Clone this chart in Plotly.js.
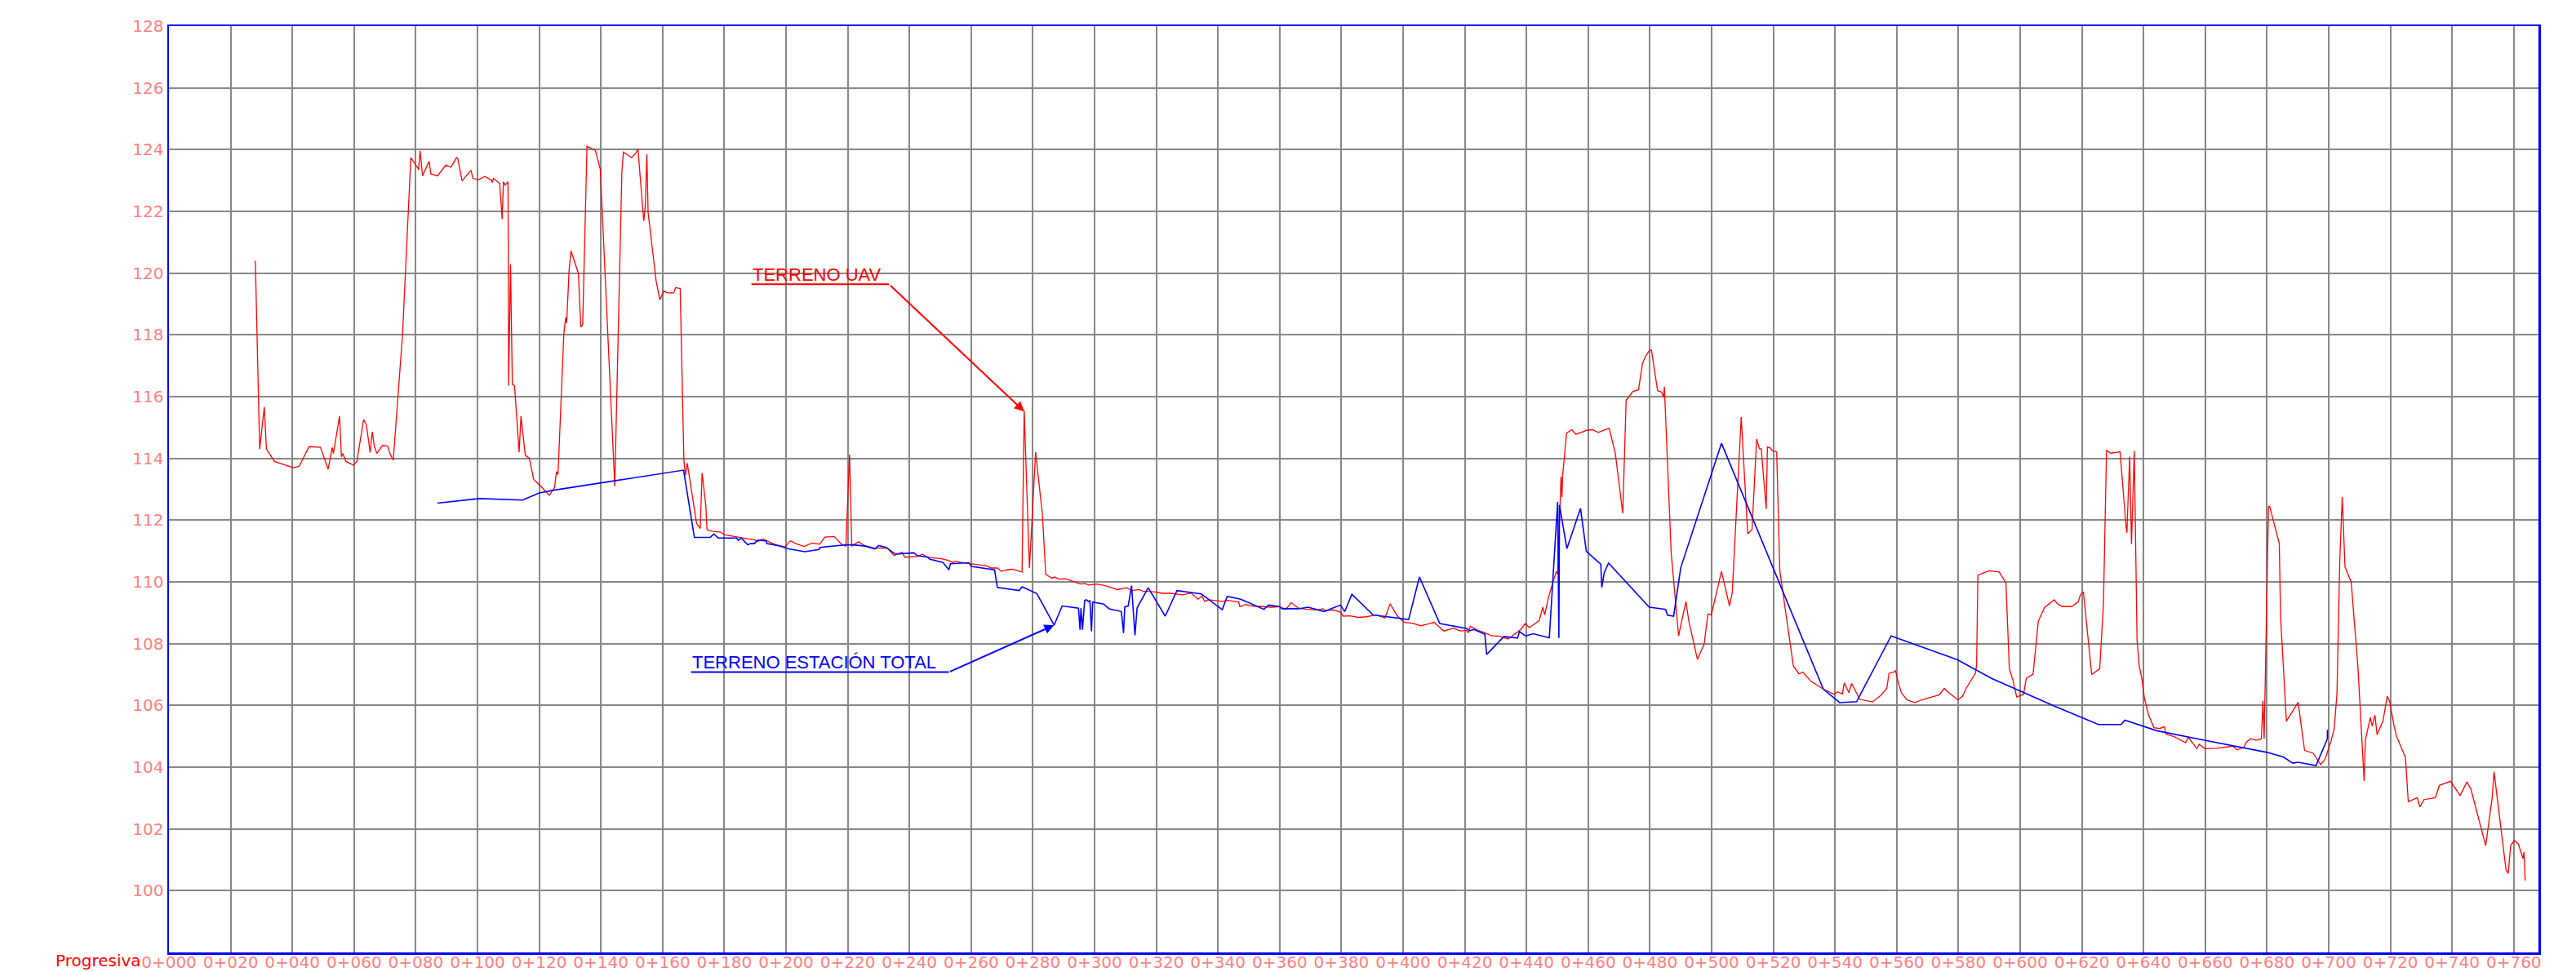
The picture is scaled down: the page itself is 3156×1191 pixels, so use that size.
<!DOCTYPE html>
<html>
<head>
<meta charset="utf-8">
<script src="https://cdn.plot.ly/plotly-3.0.1.min.js"></script>
<style>
html, body { margin: 0; padding: 0; background: #ffffff; }
#chart { width: 3156px; height: 1191px; }
</style>
</head>
<body>
<div id="chart"></div>
<script>
// Terreno UAV (progresiva m, elevación m)
const uavX = [28.0,29.4,30.9,31.6,34.2,40.3,42.2,45.4,49.1,51.6,52.9,53.3,55.3,55.9,56.3,57.4,59.8,60.9,63.1,64.0,65.2,65.9,66.6,67.4,69.2,70.9,71.6,72.7,75.7,78.4,80.6,80.9,81.4,82.2,84.3,84.9,87.1,88.5,89.7,91.4,93.2,93.6,95.0,97.9,98.5,100.3,102.4,104.5,104.8,105.2,107.2,108.0,108.4,109.0,109.9,110.1,110.7,111.3,112.0,113.5,114.1,115.5,116.8,118.2,120.0,123.3,125.0,125.6,126.1,128.0,128.6,128.9,129.7,130.3,132.7,133.5,134.1,135.5,138.2,139.8,144.5,146.8,147.3,150.0,151.4,152.0,153.9,154.4,154.9,155.3,157.9,159.1,160.4,161.5,163.6,164.2,165.7,166.9,167.4,168.0,171.0,172.2,172.8,174.0,174.4,176.0,178.9,179.9,184.2,187.8,189.6,190.8,192.5,193.7,196.7,199.6,201.4,203.2,205.8,208.5,210.9,212.6,215.6,218.2,219.4,220.6,221.3,223.5,225.3,228.8,232.8,235.0,237.6,238.5,242.9,244.3,245.6,250.4,252.6,254.0,254.9,256.7,259.3,263.7,265.1,266.4,268.5,269.8,271.6,273.4,276.5,277.2,278.9,280.9,283.1,284.2,286.2,287.1,288.4,290.6,292.4,295.4,296.8,298.1,300.7,303.4,305.6,307.3,310.4,312.2,314.4,315.7,319.3,320.3,322.0,324.6,326.4,328.6,331.3,333.5,334.8,335.7,337.0,341.4,343.2,346.7,347.1,348.9,351.1,355.1,357.3,360.0,361.7,362.6,363.7,366.1,368.8,372.3,374.0,374.9,377.5,379.7,380.6,382.8,385.5,388.1,391.2,394.1,395.8,398.2,400.4,403.0,405.7,407.5,410.1,413.2,416.3,418.5,420.7,421.1,421.8,424.2,426.0,428.6,431.3,434.0,435.7,437.4,438.2,439.6,440.9,444.1,445.3,445.9,447.0,448.5,449.7,450.1,451.2,451.5,451.7,453.0,454.7,456.0,459.6,461.3,463.3,466.8,468.8,471.2,472.3,474.5,476.3,477.6,478.5,479.8,480.5,482.5,483.8,484.4,484.7,486.9,489.3,490.4,491.7,492.6,495.4,497.6,498.8,499.9,503.2,505.8,506.7,509.6,510.2,511.7,513.1,514.6,515.5,516.1,517.7,518.1,519.0,519.6,521.1,522.1,526.5,528.3,529.6,532.2,536.2,539.7,540.8,542.4,543.0,544.5,545.4,548.0,552.1,554.7,556.8,557.5,559.1,559.6,560.4,561.5,563.3,565.9,568.1,570.6,573.8,575.4,576.9,579.8,581.3,582.6,585.5,585.9,586.3,587.5,590.0,593.2,595.4,596.5,597.6,598.9,601.1,602.0,604.2,605.9,607.9,609.5,611.1,612.0,613.7,616.7,618.8,619.5,620.5,623.2,625.8,627.0,628.0,629.3,631.7,632.4,634.2,634.6,635.5,636.1,637.0,637.9,638.6,639.5,640.3,641.7,643.4,645.2,646.8,647.3,649.9,653.6,654.5,657.3,658.0,659.9,663.6,666.3,669.0,670.3,672.5,673.4,674.7,676.5,678.2,678.7,679.1,680.5,680.9,684.0,684.4,686.3,690.1,692.2,695.0,697.4,698.9,700.7,701.8,702.7,703.6,704.4,705.3,707.3,709.5,711.5,711.9,713.5,714.1,715.0,715.7,717.6,719.0,719.8,721.2,722.0,724.9,725.8,728.7,729.6,730.9,734.6,735.9,739.5,742.6,744.8,746.1,750.9,752.1,753.0,753.6,757.5,758.2,759.0,760.2,761.5,763.0,763.3,763.7];
const uavY = [120.4,114.3,115.66,114.3,113.9,113.7,113.74,114.38,114.36,113.65,114.35,114.16,115.37,114.05,114.16,113.9,113.78,113.9,115.26,115.08,114.19,114.86,114.38,114.16,114.42,114.4,114.16,113.94,118.0,123.74,123.41,123.35,123.96,123.15,123.62,123.21,123.15,123.34,123.5,123.43,123.74,123.72,122.99,123.33,123.07,123.03,123.13,123.01,122.94,123.07,122.9,121.75,122.96,122.85,122.96,116.36,120.28,116.4,116.36,114.2,115.37,114.1,114.0,113.32,113.15,112.8,113.06,113.57,113.48,118.06,118.56,118.38,120.1,120.72,120.0,118.25,118.34,124.11,123.98,123.37,113.1,123.3,123.92,123.74,123.9,124.03,121.69,122.18,123.85,121.96,119.75,119.14,119.42,119.36,119.36,119.53,119.5,113.94,113.46,113.84,111.9,111.73,113.53,112.48,111.69,111.64,111.61,111.53,111.45,111.39,111.37,111.31,111.39,111.33,111.2,111.13,111.33,111.24,111.15,111.26,111.22,111.45,111.47,111.2,111.16,114.12,111.16,111.3,111.18,111.09,111.1,110.85,110.96,110.8,110.83,110.9,110.8,110.75,110.7,110.63,110.67,110.63,110.6,110.54,110.52,110.45,110.45,110.34,110.39,110.41,110.32,115.55,110.45,114.2,112.18,110.24,110.12,110.16,110.09,110.1,110.03,109.93,109.95,109.9,109.93,109.88,109.81,109.75,109.81,109.72,109.75,109.7,109.68,109.66,109.63,109.63,109.6,109.58,109.64,109.44,109.54,109.37,109.42,109.37,109.4,109.35,109.2,109.27,109.22,109.2,109.18,109.2,109.11,109.18,109.33,109.15,109.11,109.09,109.13,109.07,109.09,109.02,108.89,108.9,108.85,108.87,108.93,108.83,109.29,108.89,108.69,108.66,108.58,108.62,108.69,108.41,108.5,108.41,108.43,108.35,108.56,108.43,108.37,108.26,108.24,108.15,108.28,108.4,108.46,108.65,108.52,108.74,109.18,108.93,109.44,109.97,110.34,110.25,113.41,112.75,113.43,114.82,114.93,114.78,114.91,114.93,114.84,114.98,114.16,112.22,115.88,116.17,116.22,117.07,117.29,117.49,117.51,116.19,116.15,115.97,116.32,110.94,108.25,108.78,109.36,108.74,107.49,107.99,108.96,108.93,110.34,109.22,109.66,115.34,114.21,111.56,111.69,114.63,114.31,114.31,112.36,114.37,114.34,114.25,114.21,110.37,107.28,107.02,107.08,106.78,106.53,106.36,106.44,106.37,106.73,106.41,106.71,106.2,106.11,106.31,106.55,107.04,107.08,107.13,106.79,106.41,106.18,106.09,106.18,106.25,106.34,106.55,106.41,106.18,106.29,106.57,107.04,107.32,110.21,110.27,110.36,110.32,109.97,107.19,106.84,106.27,106.36,106.88,107.01,108.73,109.17,109.3,109.42,109.3,109.2,109.2,109.35,109.57,109.68,107.0,107.19,109.26,114.26,114.17,114.21,114.21,111.95,111.59,114.06,111.22,114.24,108.11,107.28,106.84,106.22,105.67,105.28,105.25,105.31,105.07,104.99,104.79,104.97,104.6,104.74,104.6,104.61,104.64,104.68,104.56,104.64,104.82,104.92,104.87,104.92,106.14,104.92,112.44,112.44,111.24,108.9,105.49,106.1,104.54,104.45,104.08,104.27,104.82,105.24,106.4,110.66,112.75,110.48,110.0,107.23,103.55,104.87,105.61,105.33,105.68,105.05,105.49,106.3,106.12,105.33,105.0,104.31,102.88,103.01,102.71,102.95,103.01,103.41,103.54,103.08,103.52,103.29,101.46,102.32,103.01,103.85,100.67,100.56,101.47,101.62,101.51,101.04,101.25,100.33];

// Terreno estación total
const etX = [87.0,100.6,114.6,120.0,124.7,166.8,170.3,175.4,176.6,178.1,184.0,184.5,185.5,187.6,188.5,189.7,190.8,193.5,193.8,197.3,200.8,206.1,210.7,211.0,219.6,221.8,225.7,228.8,230.0,232.4,235.4,241.4,242.5,246.0,246.5,250.9,252.8,253.3,259.3,260.1,267.6,268.5,275.6,276.5,281.3,286.9,289.5,294.8,295.3,295.6,296.1,296.8,297.4,298.0,298.5,299.0,299.4,303.0,304.7,308.7,309.4,309.8,310.9,312.0,313.1,313.8,317.4,322.9,326.7,334.6,341.4,343.0,347.4,354.9,356.4,359.9,360.8,366.1,369.2,374.4,379.7,381.1,383.4,390.3,401.8,405.3,411.9,420.7,421.6,422.9,425.1,426.5,427.1,432.7,437.1,437.7,439.7,442.2,447.4,450.1,450.5,450.7,453.1,457.5,459.4,464.1,464.4,465.2,466.6,479.8,485.1,485.7,487.7,490.0,503.2,536.2,541.5,547.0,558.2,566.3,579.6,590.6,611.3,625.4,632.7,634.0,644.3,659.7,672.9,680.0,685.3,688.4,690.1,695.9,699.6,699.6];
const etY = [112.55,112.70,112.65,112.88,112.97,113.62,111.44,111.44,111.55,111.42,111.42,111.35,111.42,111.2,111.24,111.24,111.35,111.33,111.24,111.18,111.07,110.98,111.05,111.12,111.2,111.2,111.16,111.07,111.18,111.12,110.9,110.94,110.85,110.8,110.74,110.63,110.39,110.59,110.62,110.5,110.39,109.82,109.72,109.84,109.62,108.6,109.22,109.15,108.45,109.15,108.45,109.4,109.42,109.36,109.4,108.4,109.35,109.28,109.13,109.04,108.34,109.19,109.22,109.88,108.27,109.16,109.81,108.89,109.72,109.61,109.1,109.53,109.44,109.11,109.25,109.2,109.13,109.13,109.18,109.04,109.25,109.04,109.6,108.93,108.78,110.16,108.65,108.49,108.42,108.46,108.37,108.3,107.65,108.23,108.18,108.39,108.25,108.32,108.19,112.59,108.18,112.49,111.08,112.38,110.99,110.57,109.82,110.3,110.61,109.18,109.11,108.92,108.89,110.46,114.49,106.53,106.09,106.12,108.25,107.96,107.48,106.88,105.97,105.38,105.38,105.52,105.18,104.87,104.62,104.48,104.33,104.13,104.16,104.05,104.92,105.21];

// Ejes
const xTickVals = [0,20,40,60,80,100,120,140,160,180,200,220,240,260,280,300,320,340,360,380,400,420,440,460,480,500,520,540,560,580,600,620,640,660,680,700,720,740,760];
const xTickText = ["0+000","0+020","0+040","0+060","0+080","0+100","0+120","0+140","0+160","0+180","0+200","0+220","0+240","0+260","0+280","0+300","0+320","0+340","0+360","0+380","0+400","0+420","0+440","0+460","0+480","0+500","0+520","0+540","0+560","0+580","0+600","0+620","0+640","0+660","0+680","0+700","0+720","0+740","0+760"];
const yTickVals = [100,102,104,106,108,110,112,114,116,118,120,122,124,126,128];

const FONT = "Liberation Sans, Arial, sans-serif";
const TICKFONT = "DejaVu Sans, Liberation Sans, sans-serif";
const RED = "#ff0000";
const BLUE = "#0000ff";
const LABEL = "#ff7f7f";

// Etiquetas (posiciones de las anotaciones)
const uavLabel = {x0: 188.8, x1: 233.4, y: 119.64, tipX: 277.2, tipY: 115.52};
const etLabel = {x0: 169.2, x1: 252.8, y: 107.08, tipX: 286.9, tipY: 108.6};

const traces = [
  {x: uavX, y: uavY, type: "scatter", mode: "lines", name: "Terreno UAV",
   line: {color: RED, width: 1.3}, hoverinfo: "skip"},
  {x: etX, y: etY, type: "scatter", mode: "lines", name: "Terreno estación total",
   line: {color: BLUE, width: 1.6}, hoverinfo: "skip"}
];

const layout = {
  width: 3156, height: 1191,
  margin: {l: 207, r: 46, t: 32, b: 24, pad: 0},
  paper_bgcolor: "#ffffff", plot_bgcolor: "#ffffff",
  showlegend: false,
  font: {family: TICKFONT, size: 20, color: LABEL},
  xaxis: {
    range: [0, 768], tickmode: "array", tickvals: xTickVals, ticktext: xTickText,
    showgrid: true, gridcolor: "#878787", gridwidth: 2, zeroline: false,
    showline: true, linecolor: BLUE, linewidth: 2.5, mirror: true,
    ticks: "", tickfont: {family: TICKFONT, size: 20, color: LABEL}, ticklabelstandoff: -8
  },
  yaxis: {
    range: [98, 128], tickmode: "array", tickvals: yTickVals,
    showgrid: true, gridcolor: "#878787", gridwidth: 2, zeroline: false,
    showline: true, linecolor: BLUE, linewidth: 2.5, mirror: true,
    ticks: "", tickfont: {family: TICKFONT, size: 20, color: LABEL}, ticklabelstandoff: 0
  },
  shapes: [
    {type: "line", xref: "x", yref: "y", x0: uavLabel.x0, x1: uavLabel.x1, y0: uavLabel.y, y1: uavLabel.y,
     line: {color: RED, width: 2}},
    {type: "line", xref: "x", yref: "y", x0: etLabel.x0, x1: etLabel.x1, y0: etLabel.y, y1: etLabel.y,
     line: {color: BLUE, width: 2}}
  ],
  annotations: [
    {xref: "x", yref: "y", x: uavLabel.x0, y: uavLabel.y, text: "TERRENO UAV",
     xanchor: "left", yanchor: "bottom", showarrow: false, borderpad: 0, yshift: -2,
     font: {family: FONT, size: 22, color: RED}},
    {xref: "x", yref: "y", x: uavLabel.tipX, y: uavLabel.tipY, ax: uavLabel.x1, ay: uavLabel.y,
     axref: "x", ayref: "y", text: "", showarrow: true, arrowhead: 2, arrowsize: 1.2,
     arrowwidth: 2, arrowcolor: RED, standoff: 0, startstandoff: 0},
    {xref: "x", yref: "y", x: etLabel.x0, y: etLabel.y, text: "TERRENO ESTACIÓN TOTAL",
     xanchor: "left", yanchor: "bottom", showarrow: false, borderpad: 0, yshift: -2,
     font: {family: FONT, size: 22, color: BLUE}},
    {xref: "x", yref: "y", x: etLabel.tipX, y: etLabel.tipY, ax: etLabel.x1, ay: etLabel.y,
     axref: "x", ayref: "y", text: "", showarrow: true, arrowhead: 2, arrowsize: 1.2,
     arrowwidth: 2, arrowcolor: BLUE, standoff: 0, startstandoff: 0},
    {xref: "paper", yref: "paper", x: -0.0112, y: -0.0205, text: "Progresiva",
     xanchor: "right", yanchor: "bottom", showarrow: false, borderpad: 0,
     font: {family: TICKFONT, size: 20, color: RED}}
  ]
};

Plotly.newPlot("chart", traces, layout, {displayModeBar: false, staticPlot: true});
</script>
</body>
</html>
